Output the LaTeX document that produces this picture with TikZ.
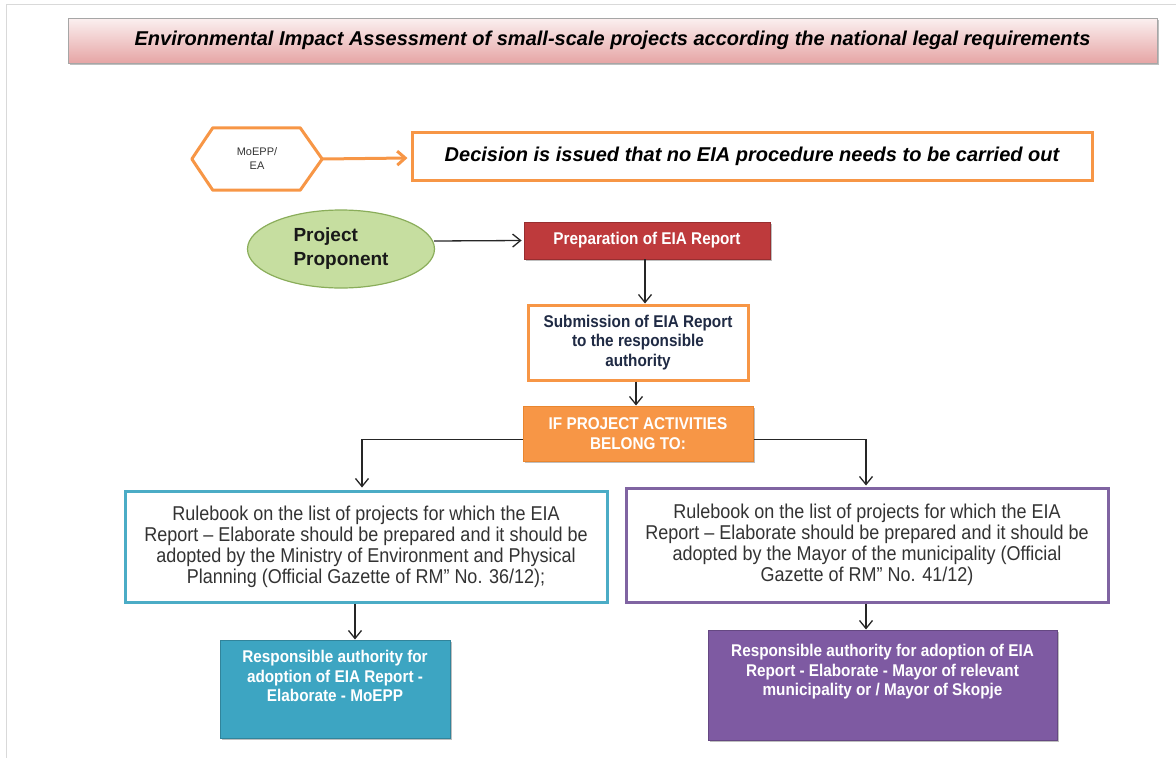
\documentclass[tikz,border=0pt]{standalone}
\usepackage{fontspec}
\setmainfont{Liberation Sans}
\newfontfamily\narrowf[FakeStretch=0.9,Ligatures=TeX]{Liberation Sans}
\usetikzlibrary{arrows.meta,shapes.geometric,calc,shadows}
\definecolor{orng}{HTML}{F79646}
\definecolor{darkorng}{HTML}{E9862F}
\definecolor{prepred}{HTML}{BE3A3C}
\definecolor{eligreen}{HTML}{C6DEA0}
\definecolor{elibord}{HTML}{8AAD5A}
\definecolor{cyanb}{HTML}{4BACC6}
\definecolor{cyanf}{HTML}{3DA5C2}
\definecolor{purpb}{HTML}{8064A2}
\definecolor{purpf}{HTML}{7E5AA2}
\definecolor{titlebot}{HTML}{E6A5A5}
\definecolor{titletop}{HTML}{FBF0F0}
\definecolor{txtgray}{HTML}{333333}
\definecolor{navy}{HTML}{1F2A44}
\begin{document}
\begin{tikzpicture}[x=1pt,y=-1pt,
  box/.style={rectangle, inner sep=2pt, align=center},
  arr/.style={draw=black!85, line width=1.3pt, -{Straight Barb[length=8pt,width=13pt,line width=1.3pt]}},
  shad/.style={drop shadow={shadow xshift=2pt,shadow yshift=-2pt,opacity=0.25,fill=black}},
  smallbold/.style={font=\narrowf\fontsize{17}{19.5}\selectfont\bfseries},
  rbtext/.style={font=\narrowf\fontsize{20}{21}\selectfont}
]
\useasboundingbox (0,0) rectangle (1176,758);
\draw[black!15, line width=1pt] (6,758) -- (6,4) -- (1176,4);

% title
\node[box, minimum width=1089pt, minimum height=45pt, draw=black!35, line width=0.8pt,
  top color=titletop, bottom color=titlebot, shad,
  font=\fontsize{20}{22}\selectfont\bfseries\itshape] (title) at (612.5,40.5)
  {Environmental Impact Assessment of small-scale projects according the national legal requirements};

% hexagon
\node[minimum width=130pt, minimum height=62pt, inner sep=0pt, align=center,
  font=\fontsize{11}{14}\selectfont, text=txtgray] (hex) at (257,159) {MoEPP/\\EA};
\draw[orng, line width=3pt, line join=round]
  (hex.west) -- ($(hex.north west)+(21,0)$) -- ($(hex.north east)+(-22,0)$) -- (hex.east)
  -- ($(hex.south east)+(-22,0)$) -- ($(hex.south west)+(21,0)$) -- cycle;

% decision
\node[box, minimum width=680pt, minimum height=48pt, draw=orng, line width=3pt, fill=white, shad,
  font=\fontsize{20}{22}\selectfont\bfseries\itshape] (dec) at (752,156)
  {Decision is issued that no EIA procedure needs to be carried out};
\coordinate (dw) at ($(dec.west)+(-3,2)$);
\draw[orng, line width=3pt, -{Straight Barb[length=8pt,width=14pt,line width=3pt]}] (hex.east) -- (dw);

% project proponent
\node[ellipse, minimum width=187pt, minimum height=78pt, fill=eligreen, draw=elibord, line width=1.2pt,
  align=left, inner sep=0pt, font=\fontsize{19}{24}\selectfont\bfseries, text=black!90] (pp) at (341,249)
  {Project\\Proponent};

% preparation
\node[box, minimum width=246pt, minimum height=37pt, fill=prepred, draw=prepred!80!black, line width=0.8pt, shad,
  text=white, smallbold] (prep) at (647,240.5)
  {Preparation of EIA Report};
\coordinate (ppe) at ($(pp.east)+(-1,-8)$);
\coordinate (prw) at ($(prep.west)+(-2,0)$);
\draw[arr] (ppe) -- (prw);

% submission
\node[box, minimum width=220pt, minimum height=75pt, fill=white, draw=orng, line width=3pt, shad,
  text=navy, smallbold] (sub) at (638,342.5)
  {Submission of EIA Report\\to the responsible\\authority};
\coordinate (a1) at ($(prep.south)+(-2,0)$);
\draw[arr] (a1) -- (a1 |- sub.north);

% if box
\node[box, minimum width=230pt, minimum height=55pt, fill=orng, draw=darkorng, line width=1pt, shad,
  text=white, smallbold] (iff) at (638,433.5)
  {IF PROJECT ACTIVITIES\\BELONG TO:};
\coordinate (a2) at ($(sub.south)+(-2,0)$);
\draw[arr] (a2) -- (a2 |- iff.north);

% rulebooks
\node[box, minimum width=482pt, minimum height=111pt, fill=white, draw=cyanb, line width=3pt, shad,
  text=txtgray, rbtext] (rbL) at (366,546.5)
  {Rulebook on the list of projects for which the EIA\\Report -- Elaborate should be prepared and it should be\\adopted by the Ministry of Environment and Physical\\Planning (Official Gazette of RM'' No. 36/12);};
\node[box, minimum width=482pt, minimum height=114pt, fill=white, draw=purpb, line width=3pt, shad,
  text=txtgray, rbtext] (rbR) at (867,545)
  {Rulebook on the list of projects for which the EIA\\Report -- Elaborate should be prepared and it should be\\adopted by the Mayor of the municipality (Official\\Gazette of RM'' No. 41/12)};
\coordinate (iw) at ($(iff.west)+(0,6)$);
\coordinate (ie) at ($(iff.east)+(0,6)$);
\coordinate (rlt) at ($(rbL.north)+(-4,-2)$);
\coordinate (rrt) at ($(rbR.north)+(-1,-1)$);
\draw[arr] (iw) -| (rlt);
\draw[arr] (ie) -| (rrt);

% bottom boxes
\node[box, minimum width=230pt, minimum height=98pt, fill=cyanf, draw=cyanf!80!black, line width=1pt, shad,
  text=white, smallbold] (botL) at (335,689)
  {Responsible authority for\\adoption of EIA Report -\\Elaborate - MoEPP\\[6pt]\mbox{}};
\node[box, minimum width=349pt, minimum height=110pt, fill=purpf, draw=purpf!80!black, line width=1pt, shad,
  text=white, smallbold] (botR) at (882.5,685)
  {Responsible authority for adoption of EIA\\Report - Elaborate - Mayor of relevant\\municipality or / Mayor of Skopje\\[10pt]\mbox{}};
\coordinate (a3) at ($(rbL.south)+(-11,0)$);
\coordinate (a4) at ($(rbR.south)+(-1,0)$);
\draw[arr] (a3) -- (a3 |- botL.north);
\draw[arr] (a4) -- (a4 |- botR.north);
\end{tikzpicture}
\end{document}
